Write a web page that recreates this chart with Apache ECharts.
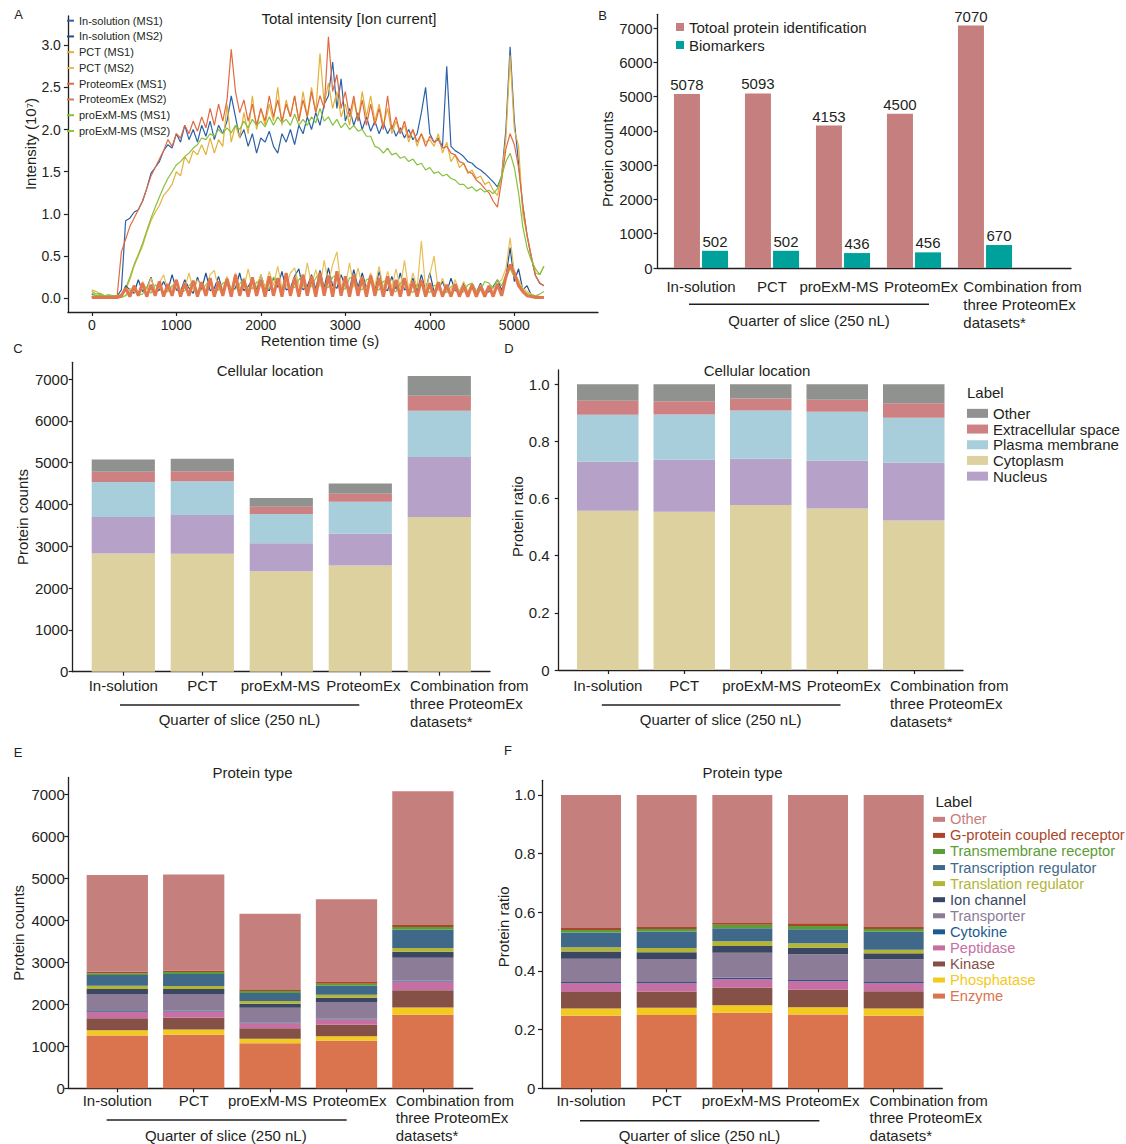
<!DOCTYPE html>
<html>
<head>
<meta charset="utf-8">
<title>Protein identification overview</title>
<script src="https://cdn.jsdelivr.net/npm/echarts@6/dist/echarts.min.js"></script>
<style>
  html, body { margin: 0; padding: 0; background: #ffffff; }
  .layer { position: absolute; left: 0; top: 0; width: 1126px; height: 1144px; }
</style>
</head>
<body>
<div id="chartAB" class="layer"></div>
<div id="chartCD" class="layer"></div>
<div id="chartEF" class="layer"></div>
<script>
// ---------------- Data ----------------
const groups = ['In-solution', 'PCT', 'proExM-MS', 'ProteomEx', 'Combination from\nthree ProteomEx\ndatasets*'];

// Panel B: identifications per workflow
const totalProteins = [5078, 5093, 4153, 4500, 7070];
const biomarkers = [502, 502, 436, 456, 670];

// Panels C/D: cellular location (protein counts)
const locCytoplasm = [2830, 2822, 2400, 2543, 3700];
const locNucleus = [870, 925, 670, 758, 1435];
const locPlasma = [837, 806, 701, 765, 1108];
const locExtracellular = [247, 239, 176, 192, 359];
const locOther = [294, 301, 206, 242, 468];

// Panels E/F: protein type (protein counts)
const typeEnzyme = [1255, 1274, 1071, 1134, 1751];
const typePhosphatase = [125, 124, 106, 108, 174];
const typeKinase = [287, 284, 250, 270, 412];
const typePeptidase = [155, 145, 119, 134, 203];
const typeCytokine = [20, 18, 18, 14, 22];
const typeTransporter = [402, 400, 356, 396, 547];
const typeIonChannel = [123, 117, 94, 102, 143];
const typeTranslation = [75, 76, 67, 67, 90];
const typeTranscription = [253, 284, 186, 214, 433];
const typeTransmembrane = [47, 46, 47, 51, 64];
const typeGPCR = [34, 34, 28, 41, 50];
const typeOther = [2302, 2291, 1811, 1969, 3181];

// Panel A: total ion current (10^7) sampled every 50 s
const retentionTime = [0,50,100,150,200,250,300,350,400,450,500,550,600,650,700,750,800,850,900,950,
  1000,1050,1100,1150,1200,1250,1300,1350,1400,1450,1500,1550,1600,1650,1700,1750,1800,1850,1900,1950,
  2000,2050,2100,2150,2200,2250,2300,2350,2400,2450,2500,2550,2600,2650,2700,2750,2800,2850,2900,2950,
  3000,3050,3100,3150,3200,3250,3300,3350,3400,3450,3500,3550,3600,3650,3700,3750,3800,3850,3900,3950,
  4000,4050,4100,4150,4200,4250,4300,4350,4400,4450,4500,4550,4600,4650,4700,4750,4800,4850,4900,4950,
  5000,5050,5100,5150,5200,5250,5300,5350];

const inSolutionMS1 = [0.05,0.03,0.04,0.02,0.03,0.02,0.03,0.10,
  0.92,0.95,1.02,1.05,1.15,1.30,1.48,1.55,1.62,1.75,1.82,1.78,
  1.95,1.85,2.05,1.88,2.00,1.85,2.05,1.92,2.10,1.88,2.05,1.95,
  2.10,2.40,2.15,1.90,2.00,1.80,1.95,1.72,1.90,1.85,1.98,1.80,
  1.72,1.95,1.85,2.00,1.82,2.05,1.95,2.15,2.00,2.20,2.05,2.30,
  2.40,2.80,2.25,2.60,2.10,2.25,2.05,2.20,2.00,2.15,1.98,2.10,
  1.95,2.08,1.95,2.05,1.92,2.02,1.90,2.00,1.88,1.95,2.20,2.50,
  1.95,1.85,1.90,1.80,2.75,1.80,1.75,1.72,1.68,1.62,1.60,1.55,
  1.52,1.48,1.43,1.38,1.32,1.45,2.00,2.98,2.10,1.60,1.10,0.75,
  0.50,0.27,0.18,0.15];
const inSolutionMS2 = [0.02,0.01,0.01,0.01,0.01,0.01,0.01,0.02,
  0.15,0.10,0.06,0.22,0.08,0.12,0.25,0.07,0.10,0.20,0.09,0.28,
  0.10,0.08,0.22,0.12,0.06,0.25,0.11,0.30,0.09,0.12,0.26,0.08,
  0.24,0.10,0.12,0.30,0.09,0.14,0.22,0.10,0.28,0.12,0.09,0.24,
  0.13,0.32,0.10,0.12,0.26,0.35,0.10,0.14,0.28,0.11,0.33,0.12,
  0.36,0.15,0.12,0.28,0.14,0.10,0.34,0.13,0.30,0.12,0.27,0.10,
  0.32,0.12,0.09,0.26,0.11,0.30,0.10,0.12,0.24,0.08,0.28,0.10,
  0.30,0.08,0.11,0.20,0.07,0.24,0.09,0.08,0.18,0.06,0.15,0.07,
  0.18,0.06,0.08,0.14,0.22,0.10,0.25,0.60,0.20,0.35,0.10,0.15,
  0.04,0.03,0.02,0.02];
const pctMS1 = [0.10,0.08,0.05,0.03,0.04,0.03,0.03,0.05,
  0.10,0.22,0.38,0.50,0.62,0.78,0.92,1.02,1.10,1.22,1.28,1.35,
  1.50,1.45,1.68,1.60,1.75,1.70,1.82,1.70,1.90,1.72,1.88,1.80,
  2.30,1.85,2.05,1.90,2.20,1.95,2.40,2.00,2.25,2.05,2.30,2.10,
  2.50,2.05,2.35,2.15,2.40,2.10,2.45,2.15,2.50,2.20,2.90,2.30,
  2.55,2.25,2.45,2.15,2.30,2.05,2.35,2.10,2.45,2.15,2.40,2.10,
  2.30,2.05,2.25,1.95,2.10,1.95,2.05,1.85,2.00,1.80,1.95,1.85,
  1.88,1.80,1.95,1.72,1.85,1.62,1.70,1.55,1.60,1.48,1.52,1.42,
  1.45,1.35,1.38,1.28,1.22,1.45,1.90,2.88,2.00,1.80,1.00,0.75,
  0.50,0.30,0.28,0.38];
const pctMS2 = [0.03,0.02,0.01,0.01,0.01,0.01,0.01,0.01,
  0.04,0.12,0.08,0.06,0.20,0.10,0.24,0.08,0.18,0.28,0.09,0.12,
  0.22,0.10,0.12,0.30,0.09,0.22,0.14,0.10,0.28,0.33,0.10,0.12,
  0.26,0.10,0.30,0.13,0.12,0.35,0.11,0.14,0.28,0.12,0.32,0.15,
  0.38,0.12,0.14,0.30,0.36,0.15,0.13,0.42,0.16,0.34,0.14,0.45,
  0.18,0.40,0.55,0.15,0.14,0.42,0.13,0.36,0.15,0.12,0.30,0.14,
  0.38,0.11,0.32,0.13,0.35,0.12,0.45,0.10,0.30,0.12,0.68,0.10,
  0.28,0.50,0.09,0.24,0.08,0.10,0.22,0.07,0.20,0.08,0.18,0.06,
  0.16,0.07,0.15,0.08,0.18,0.22,0.35,0.72,0.30,0.22,0.12,0.08,
  0.05,0.03,0.02,0.02];
const proteomExMS1 = [0.02,0.02,0.03,0.02,0.02,0.03,0.03,0.55,
  0.70,0.85,0.95,1.05,1.15,1.30,1.45,1.55,1.65,1.75,1.88,1.80,
  1.95,1.90,2.05,1.95,2.10,1.98,2.15,2.02,2.25,2.05,2.30,2.10,
  2.35,2.95,2.45,2.20,2.35,2.10,2.30,2.05,2.25,2.10,2.40,2.15,
  2.35,2.10,2.30,2.15,2.40,2.10,2.35,2.15,2.45,2.20,2.40,2.25,
  3.10,2.45,2.65,2.25,2.45,2.15,2.40,2.10,2.35,2.05,2.30,2.05,
  2.25,2.00,2.40,2.00,2.15,1.95,2.10,1.90,2.00,1.85,1.95,1.80,
  1.92,1.85,1.88,1.78,1.80,1.72,1.70,1.62,1.60,1.50,1.48,1.40,
  1.36,1.30,1.25,1.15,1.08,1.40,1.77,1.95,1.82,1.55,1.10,0.75,
  0.48,0.27,0.18,0.15];
const proteomExMS2 = [0.01,0.01,0.01,0.01,0.01,0.01,0.01,0.03,
  0.12,0.02,0.15,0.03,0.18,0.02,0.16,0.03,0.20,0.02,0.17,0.03,
  0.22,0.02,0.18,0.03,0.21,0.02,0.19,0.03,0.24,0.02,0.20,0.03,
  0.23,0.02,0.28,0.03,0.22,0.02,0.25,0.03,0.22,0.02,0.26,0.03,
  0.24,0.02,0.30,0.03,0.25,0.02,0.28,0.03,0.26,0.02,0.30,0.03,
  0.27,0.02,0.32,0.03,0.26,0.02,0.28,0.03,0.25,0.02,0.27,0.03,
  0.24,0.02,0.26,0.03,0.22,0.02,0.24,0.03,0.20,0.02,0.22,0.02,
  0.18,0.02,0.19,0.02,0.16,0.02,0.17,0.02,0.15,0.02,0.16,0.02,
  0.14,0.02,0.15,0.02,0.17,0.03,0.25,0.40,0.30,0.15,0.08,0.03,
  0.02,0.01,0.01,0.01];
const proExMMS1 = [0.08,0.05,0.06,0.03,0.04,0.03,0.03,0.04,
  0.12,0.25,0.40,0.52,0.65,0.80,0.95,1.08,1.20,1.32,1.42,1.50,
  1.58,1.62,1.68,1.72,1.78,1.82,1.90,1.88,1.95,1.92,2.00,1.95,
  2.02,1.96,2.05,2.00,2.10,2.02,2.12,2.05,2.10,2.03,2.15,2.05,
  2.15,2.08,2.12,2.05,2.18,2.05,2.12,2.05,2.15,2.08,2.25,2.10,
  2.15,2.05,2.12,2.02,2.08,2.00,2.05,1.98,2.00,1.92,1.92,1.80,
  1.78,1.72,1.78,1.70,1.72,1.66,1.68,1.62,1.65,1.58,1.60,1.52,
  1.55,1.48,1.50,1.45,1.47,1.42,1.40,1.35,1.35,1.30,1.32,1.27,
  1.30,1.26,1.28,1.24,1.30,1.45,1.62,1.72,1.55,1.25,0.85,0.60,
  0.45,0.35,0.28,0.38];
const proExMMS2 = [0.06,0.03,0.04,0.02,0.02,0.02,0.01,0.01,
  0.03,0.08,0.12,0.04,0.05,0.14,0.06,0.16,0.12,0.07,0.08,0.15,
  0.18,0.07,0.09,0.15,0.20,0.08,0.10,0.16,0.22,0.08,0.10,0.18,
  0.20,0.09,0.11,0.17,0.24,0.10,0.12,0.19,0.22,0.10,0.12,0.25,
  0.20,0.11,0.26,0.12,0.13,0.22,0.28,0.12,0.14,0.24,0.30,0.12,
  0.13,0.25,0.28,0.12,0.11,0.24,0.26,0.12,0.10,0.22,0.24,0.11,
  0.10,0.20,0.22,0.09,0.08,0.18,0.20,0.09,0.07,0.16,0.18,0.08,
  0.07,0.15,0.16,0.06,0.07,0.14,0.15,0.06,0.08,0.16,0.18,0.09,
  0.10,0.20,0.18,0.12,0.22,0.15,0.28,0.35,0.25,0.18,0.10,0.06,
  0.04,0.03,0.05,0.08];

// Tick labels
const timeTicks = [0, 1000, 2000, 3000, 4000, 5000];
const intensityTicks = [0, 0.5, 1, 1.5, 2, 2.5, 3];
const countTicks = [0, 1000, 2000, 3000, 4000, 5000, 6000, 7000];
const ratioTicks = [0, 0.2, 0.4, 0.6, 0.8, 1.0];

// ---------------- Shared styling helpers ----------------
const FONT = '"Liberation Sans", Arial, Helvetica, sans-serif';
const INK = '#231f20';
const AXIS_LINE = { color: INK, width: 1.3 };

function frameX(gridIndex) {
  return {
    type: 'value', gridIndex, min: 0, max: 1,
    axisLine: { show: true, onZero: false, lineStyle: AXIS_LINE },
    axisTick: { show: false }, axisLabel: { show: false }, splitLine: { show: false }
  };
}
function frameY(gridIndex, max, ticks, fmt, margin, name, nameGap, namePad) {
  return {
    type: 'value', gridIndex, min: 0, max,
    axisLine: { show: true, onZero: false, lineStyle: AXIS_LINE },
    axisTick: { show: true, length: 4, customValues: ticks, lineStyle: { color: INK, width: 1.2 } },
    axisLabel: { customValues: ticks, formatter: fmt, margin, fontSize: 15, color: INK, fontFamily: FONT },
    splitLine: { show: false },
    name, nameLocation: 'middle', nameGap,
    nameTextStyle: { fontSize: 15, color: INK, fontFamily: FONT, padding: namePad || 0 }
  };
}
function hiddenY(gridIndex, max) {
  return { type: 'value', gridIndex, min: 0, max, show: false };
}
// Category axis for the workflow groups. `nudge` moves single-line labels
// sideways (px, + = right); the multi-line last label is left-aligned and
// offset by `lastPad`.
function catX(gridIndex, showTick, margin, nudge, lastPad, lh) {
  const base = { fontSize: 15, lineHeight: lh, color: INK, fontFamily: FONT };
  const rich = { l: Object.assign({ align: 'left', padding: [0, 0, 0, lastPad] }, base) };
  nudge.forEach((s, i) => {
    rich['n' + i] = Object.assign({ padding: s > 0 ? [0, 0, 0, 2 * s] : [0, -2 * s, 0, 0] }, base);
  });
  const last = groups.length - 1;
  return {
    type: 'category', gridIndex, data: groups,
    axisLine: { show: false },
    axisTick: { show: showTick, alignWithLabel: true, length: 4, lineStyle: { color: INK, width: 1.2 } },
    axisLabel: Object.assign({
      interval: 0, margin, rich,
      formatter: (v, i) => {
        if (i === last) return v.split('\n').map(s => '{l|' + s + '}').join('\n');
        if (nudge[i]) return '{n' + i + '|' + v + '}';
        return v;
      }
    }, base)
  };
}
function txt(x, y, text, size, align, color) {
  return {
    type: 'text', x, y, silent: true,
    style: {
      text, font: size + 'px ' + FONT, fill: color || INK,
      align: align || 'center', verticalAlign: 'middle',
      textAlign: align || 'center', textVerticalAlign: 'middle'
    }
  };
}
function rule(x1, x2, y) {
  return { type: 'line', silent: true, shape: { x1, y1: y, x2, y2: y }, style: { stroke: INK, lineWidth: 1.5 } };
}
const plainGrid = g => Object.assign({ outerBoundsMode: 'none', containLabel: false }, g);

// ---------------- Panels A and B ----------------
const ticDefs = [
  { name: 'In-solution (MS1)', data: inSolutionMS1, color: '#2d62a8', width: 1.2 },
  { name: 'PCT (MS1)', data: pctMS1, color: '#e3b139', width: 1.2 },
  { name: 'ProteomEx (MS1)', data: proteomExMS1, color: '#e06a40', width: 1.2 },
  { name: 'proExM-MS (MS1)', data: proExMMS1, color: '#86c03c', width: 1.2 },
  { name: 'In-solution (MS2)', data: inSolutionMS2, color: '#1f4f90', width: 1.2 },
  { name: 'PCT (MS2)', data: pctMS2, color: '#e8bf55', width: 1.2 },
  { name: 'proExM-MS (MS2)', data: proExMMS2, color: '#8cc444', width: 1.2 },
  { name: 'ProteomEx (MS2)', data: proteomExMS2, color: '#e2764f', width: 3 }
];
const ticLegendOrder = ['In-solution (MS1)', 'In-solution (MS2)', 'PCT (MS1)', 'PCT (MS2)',
  'ProteomEx (MS1)', 'ProteomEx (MS2)', 'proExM-MS (MS1)', 'proExM-MS (MS2)'];

const optionAB = {
  animation: false,
  textStyle: { fontFamily: FONT },
  grid: [
    plainGrid({ left: 67.9, top: 16, width: 530.1, height: 296 }),
    plainGrid({ left: 657.5, top: 14.3, width: 413.5, height: 253.7 }),
    plainGrid({ left: 665.5, top: 14.3, width: 355, height: 253.7 })
  ],
  xAxis: [
    {
      type: 'value', gridIndex: 0, min: -283, max: 5990,
      axisLine: { show: true, onZero: false, lineStyle: AXIS_LINE },
      axisTick: { show: true, length: 4, customValues: timeTicks, lineStyle: { color: INK, width: 1.2 } },
      axisLabel: { customValues: timeTicks, formatter: v => String(v), margin: 6, fontSize: 14, color: INK, fontFamily: FONT },
      splitLine: { show: false },
      name: 'Retention time (s)', nameLocation: 'middle', nameGap: 20,
      nameTextStyle: { fontSize: 15, color: INK, fontFamily: FONT, padding: [0, 26, 0, 0] }
    },
    frameX(1),
    catX(2, false, 9, [0, 0, -4, 7], 75, 18)
  ],
  yAxis: [
    {
      type: 'value', gridIndex: 0, min: -0.162, max: 3.345,
      axisLine: { show: true, onZero: false, lineStyle: AXIS_LINE },
      axisTick: { show: true, length: 4, customValues: intensityTicks, lineStyle: { color: INK, width: 1.2 } },
      axisLabel: { customValues: intensityTicks, formatter: v => v.toFixed(1), margin: 7, fontSize: 14, color: INK, fontFamily: FONT },
      splitLine: { show: false },
      name: 'Intensity (10\u2077)', nameLocation: 'middle', nameGap: 27,
      nameTextStyle: { fontSize: 15, color: INK, fontFamily: FONT, padding: [0, 0, 0, 40] }
    },
    frameY(1, 7400, countTicks, v => String(v), 5, 'Protein counts', 43, [0, 36, 0, 0]),
    hiddenY(2, 7400)
  ],
  legend: [
    {
      data: ticLegendOrder, orient: 'vertical', left: 67, top: 12.8, padding: 0, itemGap: 0,
      itemWidth: 7, itemHeight: 2, icon: 'rect', selectedMode: false,
      textStyle: { fontSize: 11, lineHeight: 15.76, color: INK, fontFamily: FONT }
    },
    {
      data: ['Totoal protein identification', 'Biomarkers'], orient: 'vertical', left: 676, top: 18,
      padding: 0, itemGap: 0, itemWidth: 8, itemHeight: 8, icon: 'rect', selectedMode: false,
      textStyle: { fontSize: 15, lineHeight: 18, color: INK, fontFamily: FONT }
    }
  ],
  series: ticDefs.map(d => ({
    type: 'line', name: d.name, xAxisIndex: 0, yAxisIndex: 0,
    data: retentionTime.map((t, i) => [t, d.data[i]]),
    showSymbol: false, symbol: 'none', silent: true,
    lineStyle: { width: d.width, color: d.color }, itemStyle: { color: d.color }
  })).concat([
    {
      type: 'bar', name: 'Totoal protein identification', xAxisIndex: 2, yAxisIndex: 2,
      data: totalProteins, barWidth: 26, barGap: '8%', itemStyle: { color: '#c47f7e' },
      label: { show: true, position: 'top', distance: 2, fontSize: 15, color: INK, fontFamily: FONT, formatter: p => String(p.value) }
    },
    {
      type: 'bar', name: 'Biomarkers', xAxisIndex: 2, yAxisIndex: 2,
      data: biomarkers, barWidth: 26, barGap: '8%', itemStyle: { color: '#00a19a' },
      label: { show: true, position: 'top', distance: 2, fontSize: 15, color: INK, fontFamily: FONT, formatter: p => String(p.value) }
    }
  ]),
  graphic: [
    txt(18.5, 14.5, 'A', 13),
    txt(349, 18.3, 'Total intensity [Ion current]', 15),
    txt(602.5, 15, 'B', 13),
    rule(689, 929, 304.3),
    txt(809, 320, 'Quarter of slice (250 nL)', 15)
  ]
};

// ---------------- Panels C and D ----------------
const locDefs = [
  { name: 'Cytoplasm', data: locCytoplasm, color: '#ddd1a0' },
  { name: 'Nucleus', data: locNucleus, color: '#b6a1c8' },
  { name: 'Plasma membrane', data: locPlasma, color: '#a8cedb' },
  { name: 'Extracellular space', data: locExtracellular, color: '#cd8182' },
  { name: 'Other', data: locOther, color: '#8f928e' }
];
const ratioFmt = v => v === 0 ? '0' : v.toFixed(1);

const optionCD = {
  animation: false,
  textStyle: { fontFamily: FONT },
  grid: [
    plainGrid({ left: 72.7, top: 362.3, width: 417.3, height: 309.4 }),
    plainGrid({ left: 83.8, top: 362.3, width: 395, height: 309.4 }),
    plainGrid({ left: 558.7, top: 370, width: 404.3, height: 300 }),
    plainGrid({ left: 569.5, top: 370, width: 382.5, height: 300 })
  ],
  xAxis: [
    frameX(0), catX(1, true, 5, [0, 0, -1, 3], 60, 18),
    frameX(2), catX(3, true, 6.7, [0, 0, 1, 6.5], 71, 18)
  ],
  yAxis: [
    frameY(0, 7400, countTicks, v => String(v), 4.4, 'Protein counts', 42.5),
    hiddenY(1, 7400),
    frameY(2, 1.05, ratioTicks, ratioFmt, 9, 'Protein ratio', 31, [0, 0, 0, 7]),
    hiddenY(3, 1.05)
  ],
  legend: {
    data: ['Other', 'Extracellular space', 'Plasma membrane', 'Cytoplasm', 'Nucleus'],
    orient: 'vertical', left: 967, top: 405.5, padding: 0, itemGap: 0,
    itemWidth: 21, itemHeight: 9, icon: 'rect', selectedMode: false,
    textStyle: { fontSize: 15, lineHeight: 15.7, color: INK, fontFamily: FONT }
  },
  series: locDefs.map(d => ({
    type: 'bar', name: d.name, xAxisIndex: 1, yAxisIndex: 1, stack: 'locCount',
    barCategoryGap: '20%', data: d.data, itemStyle: { color: d.color }, silent: true
  })).concat(locDefs.map(d => ({
    type: 'bar', name: d.name, xAxisIndex: 3, yAxisIndex: 3, stack: 'locRatio',
    barCategoryGap: '19.6%', data: d.data.map((v, i) => v / totalProteins[i]),
    itemStyle: { color: d.color }, silent: true
  }))),
  graphic: [
    txt(18, 348, 'C', 13),
    txt(270, 370, 'Cellular location', 15),
    rule(120, 359.3, 705),
    txt(239.5, 719.3, 'Quarter of slice (250 nL)', 15),
    txt(509, 348, 'D', 13),
    txt(757, 370, 'Cellular location', 15),
    rule(601.8, 840.5, 705),
    txt(720.6, 719.3, 'Quarter of slice (250 nL)', 15),
    txt(967, 392.7, 'Label', 15, 'left')
  ]
};

// ---------------- Panels E and F ----------------
const typeDefs = [
  { name: 'Enzyme', data: typeEnzyme, color: '#d9744f' },
  { name: 'Phosphatase', data: typePhosphatase, color: '#f3ca1f' },
  { name: 'Kinase', data: typeKinase, color: '#855147' },
  { name: 'Peptidase', data: typePeptidase, color: '#c66fa3' },
  { name: 'Cytokine', data: typeCytokine, color: '#1e5b8e' },
  { name: 'Transporter', data: typeTransporter, color: '#8c7c98' },
  { name: 'Ion channel', data: typeIonChannel, color: '#3b4762' },
  { name: 'Translation regulator', data: typeTranslation, color: '#b2b535' },
  { name: 'Transcription regulator', data: typeTranscription, color: '#406889' },
  { name: 'Transmembrane receptor', data: typeTransmembrane, color: '#5b9d36' },
  { name: 'G-protein coupled receptor', data: typeGPCR, color: '#a9472b' },
  { name: 'Other', data: typeOther, color: '#c57f7d' }
];

const optionEF = {
  animation: false,
  textStyle: { fontFamily: FONT },
  grid: [
    plainGrid({ left: 68.3, top: 777.5, width: 404.4, height: 310.8 }),
    plainGrid({ left: 79.1, top: 777.5, width: 382, height: 310.8 }),
    plainGrid({ left: 542, top: 780.3, width: 400.3, height: 308 }),
    plainGrid({ left: 553.2, top: 780.3, width: 378.3, height: 308 })
  ],
  xAxis: [
    frameX(0), catX(1, true, 3, [0, 0, -2.5, 3], 64, 17.5),
    frameX(2), catX(3, true, 3, [0, 0, -1, 4.5], 70, 17.5)
  ],
  yAxis: [
    frameY(0, 7400, countTicks, v => String(v), 3.5, 'Protein counts', 42),
    hiddenY(1, 7400),
    frameY(2, 1.05, ratioTicks, ratioFmt, 6.6, 'Protein ratio', 26.5, [0, 0, 0, 15]),
    hiddenY(3, 1.05)
  ],
  legend: {
    data: typeDefs.slice().reverse().map(d => ({ name: d.name, textStyle: { color: d.color } })),
    orient: 'vertical', left: 933, top: 811.3, padding: 0, itemGap: 0,
    itemWidth: 12, itemHeight: 5, icon: 'rect', selectedMode: false,
    textStyle: { fontSize: 14.7, lineHeight: 16.07, fontFamily: FONT }
  },
  series: typeDefs.map(d => ({
    type: 'bar', name: d.name, xAxisIndex: 1, yAxisIndex: 1, stack: 'typeCount',
    barCategoryGap: '19.8%', data: d.data, itemStyle: { color: d.color }, silent: true
  })).concat(typeDefs.map(d => ({
    type: 'bar', name: d.name, xAxisIndex: 3, yAxisIndex: 3, stack: 'typeRatio',
    barCategoryGap: '20.7%', data: d.data.map((v, i) => v / totalProteins[i]),
    itemStyle: { color: d.color }, silent: true
  }))),
  graphic: [
    txt(18, 752, 'E', 13),
    txt(252.5, 772.3, 'Protein type', 15),
    rule(106.7, 346.7, 1120),
    txt(225.8, 1135, 'Quarter of slice (250 nL)', 15),
    txt(508, 750, 'F', 13),
    txt(742.5, 772.3, 'Protein type', 15),
    rule(580, 819.4, 1120.7),
    txt(699.5, 1135.7, 'Quarter of slice (250 nL)', 15),
    txt(935.4, 801, 'Label', 15, 'left')
  ]
};

const initOpts = { renderer: 'svg', width: 1126, height: 1144 };
echarts.init(document.getElementById('chartAB'), null, initOpts).setOption(optionAB);
echarts.init(document.getElementById('chartCD'), null, initOpts).setOption(optionCD);
echarts.init(document.getElementById('chartEF'), null, initOpts).setOption(optionEF);
</script>
</body>
</html>
